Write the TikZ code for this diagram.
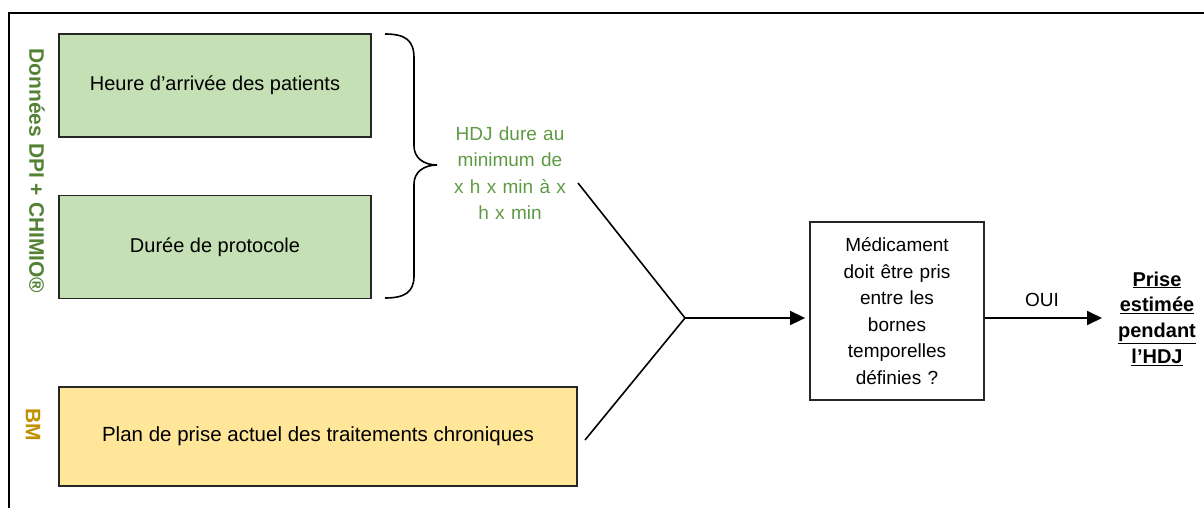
\documentclass[tikz,border=0pt]{standalone}
\usepackage{fontspec}
\setmainfont{Liberation Sans}
\usetikzlibrary{arrows.meta}
\definecolor{boxgreen}{HTML}{C5E0B4}
\definecolor{boxyellow}{HTML}{FFE699}
\definecolor{labgreen}{HTML}{548235}
\definecolor{notegreen}{HTML}{5E9A44}
\definecolor{labgold}{HTML}{BF9000}
\begin{document}
\begin{tikzpicture}[x=1pt,y=-1pt,line width=1.6pt,
  basefont/.style={font=\fontsize{19}{26.5}\selectfont},
  boxfont/.style={font=\fontsize{20}{26}\selectfont},
  databox/.style={boxfont,draw=black!85,line width=1.8pt,fill=boxgreen,
    minimum width=312pt,minimum height=103pt,inner sep=0pt},
  chronbox/.style={font=\fontsize{20.5}{26}\selectfont,draw=black!85,line width=1.8pt,fill=boxyellow,
    minimum width=518pt,minimum height=99pt,inner sep=0pt},
  testbox/.style={basefont,draw=black!85,line width=1.8pt,
    minimum width=174pt,minimum height=178pt,text width=160pt,align=center,inner sep=0pt},
  sidelabel/.style={font=\fontsize{21}{24}\selectfont\bfseries,rotate=-90},
  link/.style={line width=1.6pt},
  flow/.style={line width=1.8pt,-{Triangle[length=15pt,width=14pt]},shorten >=4pt}]
\useasboundingbox (0,0) rectangle (1204,508);

% outer frame (open at the right and bottom)
\draw[line width=2pt] (9,508) -- (9,13) -- (1204,13);

% source labels
\node[sidelabel,text=labgreen] (dpi) at (37,171) {Données DPI + CHIMIO®};
\node[sidelabel,text=labgold] (bm) at (33,425) {BM};

% input data boxes
\node[databox] (arrivee) at (215,85.5) {Heure d’arrivée des patients};
\node[databox] (duree) at (215,247) {Durée de protocole};
\node[chronbox] (plan) at (318,436.5) {Plan de prise actuel des traitements chroniques};

% brace grouping the two data boxes
\draw[link] (385,34) .. controls (405,34) and (414,40) .. (414,58)
  -- (414,146) .. controls (414,158) and (424,165) .. (437,165)
  .. controls (424,165) and (414,172) .. (414,184)
  -- (414,276) .. controls (414,292) and (405,298) .. (385,298);

% derived time window
\node[basefont,text=notegreen,align=center,text width=140pt] (hdj) at (510,173)
  {HDJ dure au\\minimum de\\x h x min à x\\h x min};

% merge of the two branches
\coordinate (hdjend) at (578,183);
\coordinate (planend) at (585,440);
\coordinate (j) at (685,318);
\draw[link] (hdjend) -- (j) -- (planend);

% decision and outcome
\node[testbox] (test) at (897,311)
  {Médicament\\doit être pris\\entre les\\bornes\\temporelles\\définies ?};
\node[font=\fontsize{20}{25.7}\selectfont\bfseries,align=center] (prise) at (1157,318.5)
  {\underline{Prise}\\\underline{estimée}\\\underline{pendant}\\\underline{l’HDJ}};

\draw[flow] (j) -- (j -| test.west);
\draw[flow] (test.east |- j) -- (1106,318) coordinate (arrend);
\node[basefont] (oui) at (1042,300) {OUI};
\end{tikzpicture}
\end{document}
